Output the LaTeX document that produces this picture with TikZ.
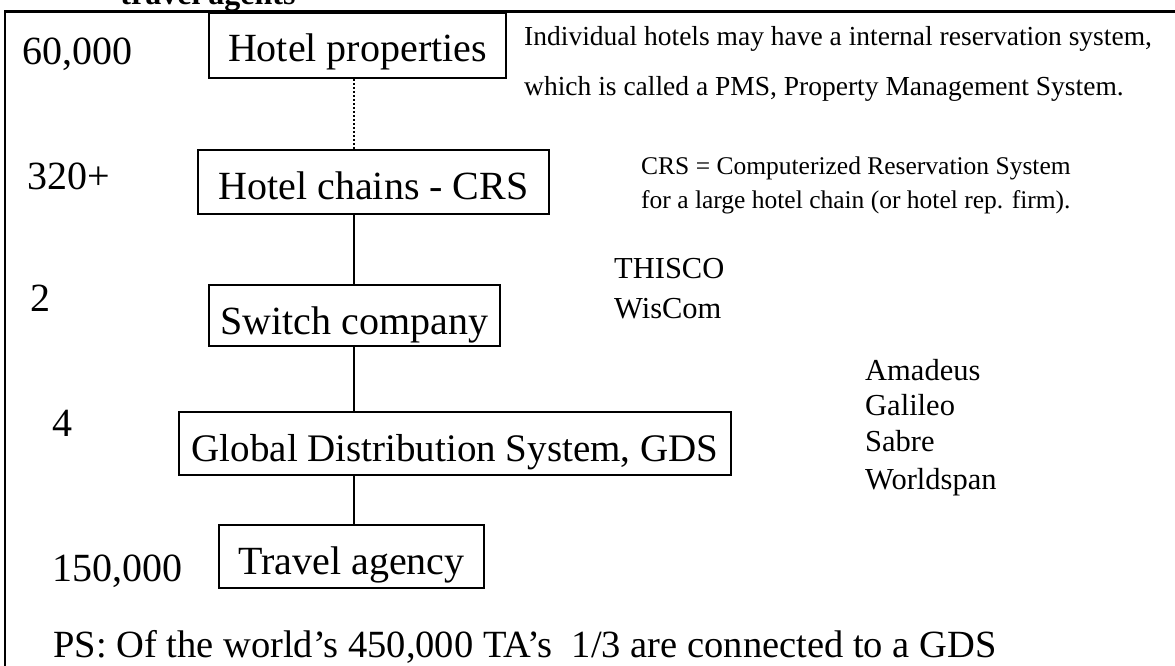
\documentclass[tikz,border=0pt]{standalone}
\usepackage{fontspec}
\setmainfont{Liberation Serif}
\begin{document}
\begin{tikzpicture}[x=1pt,y=-1pt,
  big/.style={font=\fontsize{40}{48}\selectfont},
  stage/.style={draw, line width=2pt, inner sep=0pt, big, text height=49pt},
  num/.style={anchor=base west, inner sep=0pt, big},
  pms/.style={anchor=base west, inner sep=0pt, font=\fontsize{27.5}{33}\selectfont},
  crs/.style={anchor=base west, inner sep=0pt, font=\fontsize{25.5}{31}\selectfont},
  vendor/.style={anchor=base west, inner sep=0pt, font=\fontsize{30.5}{36}\selectfont},
  link/.style={line width=2pt},
  weak/.style={line width=2pt, dash pattern=on 2pt off 2pt},
]
\useasboundingbox (0,0) rectangle (1175,666);
\clip (0,0) rectangle (1175,666);
\fill[white] (0,0) rectangle (1175,666);

% title, mostly above the page edge
\node[anchor=base, inner sep=0pt, font=\fontsize{32}{38}\selectfont\bfseries] (title) at (208,5) {travel agents};

% outer frame (top and left sides)
\draw[line width=2.5pt] (5,700) -- (5,11.5) -- (1200,11.5);

% distribution chain
\node[stage, minimum width=297pt, text depth=16pt, anchor=north west] (hp) at (208,12) {Hotel properties};
\node[stage, minimum width=351pt, text depth=15pt, anchor=north west] (hc) at (197,149) {Hotel chains - CRS};
\node[stage, minimum width=291pt, text depth=12pt, anchor=north west] (sw) at (208,284) {Switch company};
\node[stage, minimum width=552pt, text depth=14pt, anchor=north west,
      font=\fontsize{39}{47}\selectfont] (gds) at (178,411) {Global Distribution System, GDS};
\node[stage, minimum width=265pt, text depth=14pt, anchor=north west] (ta) at (218,524) {Travel agency};

\coordinate (axis) at (353.5,0);
\draw[weak] (hp.south -| axis) -- (hc.north -| axis);
\draw[link] (hc.south -| axis) -- (sw.north -| axis);
\draw[link] (sw.south -| axis) -- (gds.north -| axis);
\draw[link] (gds.south -| axis) -- (ta.north -| axis);

% counts
\node[num] (n1) at (22,65) {60,000};
\node[num] (n2) at (27,189) {320+};
\node[num] (n3) at (30,311) {2};
\node[num] (n4) at (52,436) {4};
\node[num] (n5) at (52,581) {150,000};
\node[num, font=\fontsize{38.5}{46}\selectfont] (ps) at (53,657) {PS: Of the world’s 450,000 TA’s~ 1/3 are connected to a GDS};

% explanatory notes
\node[pms] (pms1) at (524,46) {Individual hotels may have a internal reservation system,};
\node[pms] (pms2) at (524,96) {which is called a PMS, Property Management System.};
\node[crs] (crs1) at (641,175) {CRS = Computerized Reservation System};
\node[crs] (crs2) at (641,208) {for a large hotel chain (or hotel rep. firm).};

% switch companies
\node[vendor] (v1) at (614,278) {THISCO};
\node[vendor] (v2) at (614,318) {WisCom};

% global distribution systems
\node[vendor] (g1) at (865,380) {Amadeus};
\node[vendor] (g2) at (865,415) {Galileo};
\node[vendor] (g3) at (865,451) {Sabre};
\node[vendor] (g4) at (865,489) {Worldspan};
\end{tikzpicture}
\end{document}
